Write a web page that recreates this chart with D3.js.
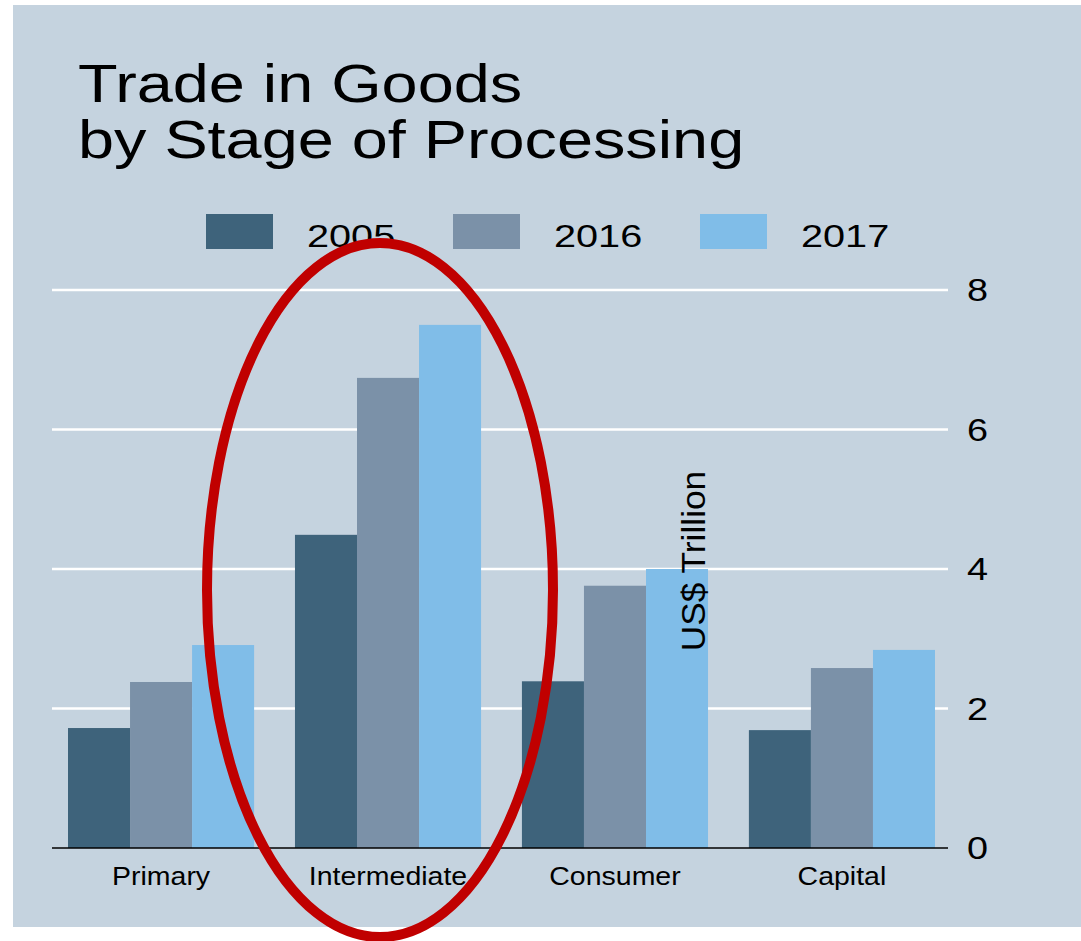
<!DOCTYPE html>
<html>
<head>
<meta charset="utf-8">
<script src="https://cdn.jsdelivr.net/npm/d3@7"></script>
<style>
  body { margin: 0; background: #fff; }
  text { font-family: "Liberation Sans", Arial, sans-serif; fill: #000; }
</style>
</head>
<body>
<div id="vis"></div>
<script>
var categories = ["Primary", "Intermediate", "Consumer", "Capital"];
var years = ["2005", "2016", "2017"];
var values2005 = [1.72, 4.49, 2.39, 1.69];
var values2016 = [2.38, 6.74, 3.76, 2.58];
var values2017 = [2.91, 7.50, 4.00, 2.84];
var yTicks = [0, 2, 4, 6, 8];
var colors = ["#3e637b", "#7b91a8", "#80bde8"];

var series = [values2005, values2016, values2017];

var W = 1081, H = 941;
var margin = {top: 290, right: 133, bottom: 93, left: 52},
    width = W - margin.left - margin.right,
    height = H - margin.top - margin.bottom;

var svg = d3.select("#vis")
    .append("svg")
    .attr("width", W)
    .attr("height", H);

// the source fonts run wider than Liberation Sans, so stretch text horizontally
function stretchText(sel, x, y, sx, size, str, anchor) {
  return sel.append("text")
      .attr("transform", "translate(" + x + "," + y + ") scale(" + sx + ",1)")
      .attr("text-anchor", anchor || "start")
      .style("font-size", size + "px")
      .text(str);
}

// panel background
svg.append("rect")
    .attr("x", 13).attr("y", 5)
    .attr("width", W - 13).attr("height", 922)
    .attr("fill", "#c5d3df");

// title
stretchText(svg, 78, 102, 1.2, 54, "Trade in Goods");
stretchText(svg, 78, 158, 1.2, 54, "by Stage of Processing");

var x0 = d3.scaleBand()
    .domain(categories)
    .range([16, 883])
    .paddingInner(0.18)
    .paddingOuter(0);

var x1 = d3.scaleBand()
    .domain(years)
    .range([0, x0.bandwidth()]);

var y = d3.scaleLinear()
    .domain([0, 8])
    .range([height, 0]);

var g = svg.append("g")
    .attr("transform", "translate(" + margin.left + "," + margin.top + ")");

// gridlines
g.selectAll(".grid")
    .data(yTicks.filter(function(d) { return d > 0; }))
    .enter()
    .append("line")
    .attr("x1", 0).attr("x2", width)
    .attr("y1", function(d) { return y(d); })
    .attr("y2", function(d) { return y(d); })
    .attr("stroke", "#fff")
    .attr("stroke-width", 2.5);

// bars
years.forEach(function(yr, i) {
  g.selectAll(".bar" + yr)
      .data(series[i])
      .enter()
      .append("rect")
      .attr("x", function(d, j) { return x0(categories[j]) + x1(yr); })
      .attr("y", function(d) { return y(d); })
      .attr("width", x1.bandwidth())
      .attr("height", function(d) { return height - y(d); })
      .attr("fill", colors[i]);
});

// baseline
g.append("line")
    .attr("x1", 0).attr("x2", width)
    .attr("y1", y(0)).attr("y2", y(0))
    .attr("stroke", "#000")
    .attr("stroke-width", 1.5);

// y tick labels on the right
yTicks.forEach(function(d) {
  stretchText(g, width + 19, y(d) + 11, 1.22, 31, d);
});

// category labels
categories.forEach(function(c) {
  stretchText(g, x0(c) + x0.bandwidth() / 2, height + 37, 1.14, 25, c, "middle");
});

// axis title
svg.append("text")
    .attr("transform", "translate(705,561) rotate(-90) scale(1.07,1)")
    .attr("text-anchor", "middle")
    .style("font-size", "33px")
    .text("US$ Trillion");

// legend
var legend = svg.append("g")
    .attr("transform", "translate(206,214)");
years.forEach(function(yr, i) {
  var lg = legend.append("g")
      .attr("transform", "translate(" + (i * 247) + ",0)");
  lg.append("rect")
      .attr("width", 67).attr("height", 35)
      .attr("fill", colors[i]);
  stretchText(lg, 101, 33, 1.28, 31, yr);
});

// highlight ellipse
svg.append("ellipse")
    .attr("cx", 380).attr("cy", 590)
    .attr("rx", 173).attr("ry", 347)
    .attr("fill", "none")
    .attr("stroke", "#c00000")
    .attr("stroke-width", 10);
</script>
</body>
</html>
